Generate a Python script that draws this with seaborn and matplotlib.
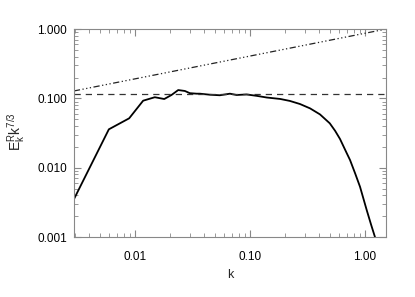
import numpy as np
import pandas as pd
import matplotlib
matplotlib.use('Agg')
import matplotlib.pyplot as plt
import matplotlib.ticker as mticker
import seaborn as sns

# spectrum E_k^R k^(7/3)
k_vals = [0.00295, 0.00594, 0.00892, 0.0118, 0.0149, 0.0180, 0.0208, 0.0238,
          0.0272, 0.0300, 0.0344, 0.0367, 0.0449, 0.0548, 0.0670, 0.0765,
          0.0935, 0.114, 0.140, 0.183, 0.222, 0.272, 0.333, 0.406, 0.494,
          0.550, 0.606, 0.690, 0.741, 0.820, 0.905, 1.034, 1.13, 1.22]
e_vals = [0.0035, 0.0358, 0.0516, 0.0927, 0.104, 0.098, 0.112, 0.132,
          0.128, 0.119, 0.117, 0.117, 0.113, 0.111, 0.117, 0.112,
          0.114, 0.109, 0.103, 0.0982, 0.0920, 0.083, 0.0718, 0.0588, 0.0437,
          0.034, 0.026, 0.0165, 0.0129, 0.0083, 0.0053, 0.00245, 0.0015, 0.001]

# reference lines
flat_level = 0.115
slope_k = [0.00295, 1.52]
slope_e = [0.128, 1.0]

sns.set_theme(style='ticks')
plt.rcParams['font.family'] = ['Liberation Sans', 'DejaVu Sans']
plt.rcParams['mathtext.default'] = 'regular'

fig = plt.figure(figsize=(4.15, 2.97), dpi=100)
ax = fig.add_axes([0.178, 0.202, 0.752, 0.700])

df = pd.DataFrame({'k': k_vals, 'E': e_vals})
sns.lineplot(data=df, x='k', y='E', ax=ax, color='black', lw=1.3, sort=False)

ax.axhline(flat_level, color='#333333', lw=0.9, ls=(0, (5, 4)))
sl = pd.DataFrame({'k': slope_k, 'E': slope_e})
sns.lineplot(data=sl, x='k', y='E', ax=ax, color='#222222', lw=0.9,
             linestyle=(0, (5, 2, 1, 2, 1, 2, 1, 2)))

ax.set_xscale('log')
ax.set_yscale('log')
ax.set_xlim(0.00295, 1.52)
ax.set_ylim(0.001, 1.0)

ax.xaxis.set_major_locator(mticker.FixedLocator([0.01, 0.1, 1.0]))
ax.xaxis.set_major_formatter(mticker.FormatStrFormatter('%.2f'))
ax.yaxis.set_major_locator(mticker.FixedLocator([0.001, 0.01, 0.1, 1.0]))
ax.yaxis.set_major_formatter(mticker.FormatStrFormatter('%.3f'))
ax.xaxis.set_minor_locator(mticker.LogLocator(base=10, subs=np.arange(2, 10)))
ax.yaxis.set_minor_locator(mticker.LogLocator(base=10, subs=np.arange(2, 10)))
ax.xaxis.set_minor_formatter(mticker.NullFormatter())
ax.yaxis.set_minor_formatter(mticker.NullFormatter())

for s in ax.spines.values():
    s.set_visible(True)
    s.set_color('#888888')
    s.set_linewidth(0.8)
ax.tick_params(which='both', direction='in', top=True, right=True,
               color='#888888', labelsize=8.5, labelcolor='black')
ax.tick_params(which='major', length=5, width=0.8)
ax.tick_params(which='minor', length=3, width=0.6)
ax.tick_params(axis='x', which='major', pad=10)
ax.tick_params(axis='y', which='major', pad=5)

ax.set_xlabel('k', fontsize=9)
ax.set_ylabel(r'$E_k^R k^{7/3}$', fontsize=10)
ax.xaxis.set_label_coords(0.5, -0.155)
ax.yaxis.set_label_coords(-0.151, 0.505)
ax.grid(False)

fig.savefig('out.png', dpi=100)
